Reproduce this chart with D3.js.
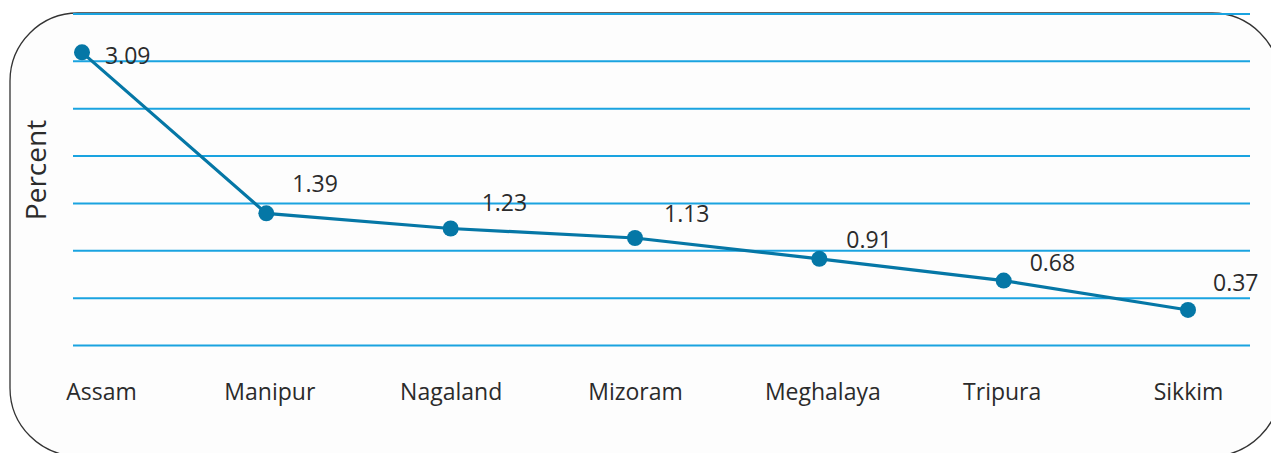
<!DOCTYPE html>
<html><head><meta charset="utf-8">
<script src="https://cdn.jsdelivr.net/npm/d3@7"></script>
<style>body{margin:0;background:#fff}svg{display:block}text{font-family:"Open Sans",sans-serif;fill:#2b2b2b}</style>
</head><body>
<svg id="c" width="1271" height="453"></svg>
<script>
const categories = ["Assam","Manipur","Nagaland","Mizoram","Meghalaya","Tripura","Sikkim"];
const values = [3.09,1.39,1.23,1.13,0.91,0.68,0.37];
const valueLabels = ["3.09","1.39","1.23","1.13","0.91","0.68","0.37"];
const gridTicks = [0,0.5,1,1.5,2,2.5,3,3.5];
const yTitle = "Percent";
// label placement (layout, not data)
const labelDx = [23,26,31,29,27,26,25];
const labelDy = [4,-29,-26,-24,-19,-18,-27];
const catDx = [19,3,0,0,3,-2,0];

const svg = d3.select("#c");
svg.append("rect").attr("x",10).attr("y",13).attr("width",1270).attr("height",443)
  .attr("rx",68).attr("ry",68).attr("fill","#fdfdfd").attr("stroke","#333").attr("stroke-width",1.3);

const x = d3.scalePoint().domain(categories).range([82,1188]);
const y = d3.scaleLinear().domain([0,3.5]).range([345,13.5]);

const grid = svg.append("g").attr("transform","translate(73,0)")
  .call(d3.axisLeft(y).tickValues(gridTicks).tickSize(-(1250-73)).tickFormat(""));
grid.select(".domain").remove();
grid.selectAll(".tick line").attr("stroke","#1aa3e0").attr("stroke-width",2);

const xAxis = svg.append("g").attr("transform","translate(0,392)")
  .call(d3.axisBottom(x).tickSize(0).tickPadding(0));
xAxis.select(".domain").remove();
xAxis.selectAll("text").attr("y",0).attr("dy","0.35em").attr("dx",(d,i)=>catDx[i])
  .style("font-size","23px").style("font-family","'Open Sans',sans-serif").attr("fill","#2b2b2b");

svg.append("text").attr("transform","translate(46,170) rotate(-90)")
  .attr("text-anchor","middle").style("font-size","28px").text(yTitle);

const line = d3.line().x((d,i)=>x(categories[i])).y(d=>y(d));
svg.append("path").datum(values).attr("d",line).attr("fill","none")
  .attr("stroke","#0577a6").attr("stroke-width",3.2);

svg.selectAll("circle.pt").data(values).join("circle").attr("class","pt")
  .attr("cx",(d,i)=>x(categories[i])).attr("cy",d=>y(d)).attr("r",8).attr("fill","#0577a6");

svg.selectAll("text.val").data(values).join("text").attr("class","val")
  .attr("x",(d,i)=>x(categories[i])+labelDx[i]).attr("y",(d,i)=>y(d)+labelDy[i])
  .attr("dy","0.35em").style("font-size","23px").text((d,i)=>valueLabels[i]);
</script>
</body></html>
